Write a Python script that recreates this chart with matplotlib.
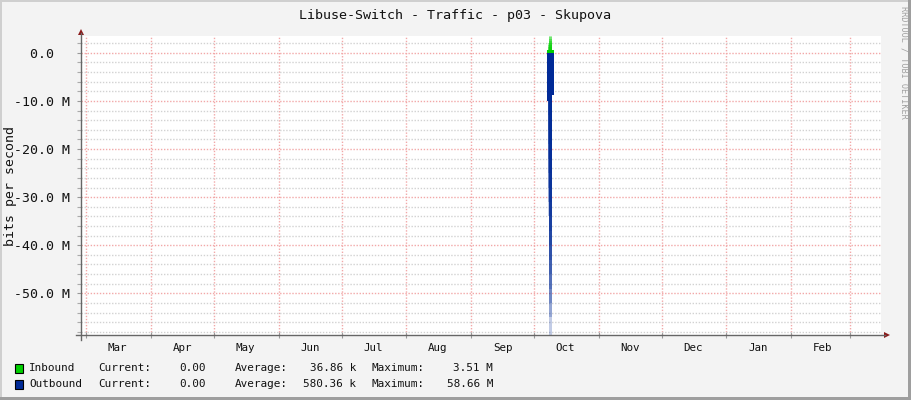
import matplotlib
matplotlib.use("Agg")
import matplotlib.pyplot as plt
import matplotlib.dates as mdates
from matplotlib.ticker import MultipleLocator, FuncFormatter
from matplotlib.patches import Rectangle, Polygon
from matplotlib.lines import Line2D
import numpy as np
import pandas as pd

# ---------------- data ----------------
title = "Libuse-Switch - Traffic - p03 - Skupova"
y_label = "bits per second"
x_start = "2022-02-26 11:00"
x_end = "2023-03-15 22:00"

# daily-average step segments (edges / values) around the October burst
burst_edges = ["2022-10-07 08:00", "2022-10-08 06:00", "2022-10-10 09:00"]
inbound_steps = [0.6e6, 0.6e6]
outbound_steps = [-10.1e6, -8.7e6]

# short peaks inside the burst (fading spikes)
in_peak_time = "2022-10-08 19:00"
inbound_peaks = [3.51e6, 3.2e6, 2.8e6, 2.4e6, 2.0e6, 1.6e6, 1.2e6]
out_peak_time = "2022-10-08 19:00"
outbound_peaks = [-58.66e6, -55e6, -52e6, -49e6, -46e6, -43e6, -40e6, -37e6,
                  -34e6, -31e6, -28e6, -25e6, -22e6, -19e6, -16e6, -13e6]

legend_names = ["Inbound", "Outbound"]
legend_current = ["0.00", "0.00"]
legend_average = ["36.86 k", "580.36 k"]
legend_maximum = ["3.51 M", "58.66 M"]
legend_colors = ["#00CF00", "#002A97"]

y_min, y_max = -58.66e6, 3.51e6

# ---------------- figure ----------------
W, H = 911, 400
fig = plt.figure(figsize=(W / 100, H / 100), dpi=100)
fig.patch.set_facecolor("#F3F3F3")
mono = "DejaVu Sans Mono"

def fx(px):
    return px / W

def fy(py):
    return 1 - py / H

# frame borders
fig.add_artist(Rectangle((0, 0), fx(2), 1, transform=fig.transFigure, color="#CFCFCF", lw=0))
fig.add_artist(Rectangle((0, fy(2)), 1, 2 / H, transform=fig.transFigure, color="#CFCFCF", lw=0))
fig.add_artist(Rectangle((fx(908), 0), fx(3), 1, transform=fig.transFigure, color="#9E9E9E", lw=0))
fig.add_artist(Rectangle((0, 0), 1, 3 / H, transform=fig.transFigure, color="#9E9E9E", lw=0))

ax = fig.add_axes([fx(81), fy(335), fx(881) - fx(81), (335 - 36) / H])
ax.set_facecolor("white")
for s in ax.spines.values():
    s.set_visible(False)

t0 = pd.Timestamp(x_start)
t1 = pd.Timestamp(x_end)
ax.set_xlim(mdates.date2num(t0), mdates.date2num(t1))
ax.set_ylim(y_min, y_max)

# grids
ax.xaxis.set_major_locator(mdates.MonthLocator())
ax.xaxis.set_major_formatter(plt.NullFormatter())
ax.xaxis.set_minor_locator(mdates.MonthLocator(bymonthday=16))
ax.xaxis.set_minor_formatter(mdates.DateFormatter("%b"))
ax.yaxis.set_major_locator(MultipleLocator(10e6))
ax.yaxis.set_minor_locator(MultipleLocator(2e6))
ax.yaxis.set_major_formatter(FuncFormatter(lambda v, p: "0.0  " if abs(v) < 1 else f"{v/1e6:.1f} M"))

red = "#F2A8A8"
ax.xaxis.grid(True, which="major", color=red, ls=(0, (1, 1.2)), lw=1)
ax.yaxis.grid(True, which="major", color=red, ls=(0, (1, 1.2)), lw=1)
ax.yaxis.grid(True, which="minor", color="#D2D2D2", ls=(0, (1, 1.2)), lw=1)
ax.set_axisbelow(True)

ax.tick_params(axis="x", which="major", length=4, direction="inout", color="#999999", width=0.8)
ax.tick_params(axis="x", which="minor", length=0, pad=6, labelsize=7.8, labelcolor="#111111")
ax.tick_params(axis="y", which="major", length=3, direction="out", color="#999999", width=0.8,
               pad=5, labelsize=9.5, labelcolor="#111111")
ax.tick_params(axis="y", which="minor", length=3, direction="out", color="#AAAAAA", width=0.8)
for lab in ax.get_xticklabels(minor=True) + ax.get_yticklabels():
    lab.set_fontfamily(mono)

# ---------------- data marks ----------------
edges = mdates.date2num(pd.to_datetime(burst_edges))
ax.fill_between(edges, list(inbound_steps) + [inbound_steps[-1]], 0, step="post",
                color=legend_colors[0], lw=0, zorder=3)
ax.fill_between(edges, list(outbound_steps) + [outbound_steps[-1]], 0, step="post",
                color=legend_colors[1], lw=0, zorder=3)

tin = mdates.date2num(pd.Timestamp(in_peak_time))
for i, v in enumerate(inbound_peaks):
    ax.bar(tin, v, width=1.3 + 0.1 * i, color=legend_colors[0], alpha=0.32, lw=0, zorder=3)
tout = mdates.date2num(pd.Timestamp(out_peak_time))
for i, v in enumerate(outbound_peaks):
    ax.bar(tout, v, width=1.2 + 0.06 * i, color=legend_colors[1], alpha=0.24, lw=0, zorder=3)

# ---------------- axes lines & arrows ----------------
axis_col = "#666666"
fig.add_artist(Line2D([fx(81), fx(81)], [fy(340), fy(33)], transform=fig.transFigure, color=axis_col, lw=1))
fig.add_artist(Line2D([fx(76), fx(885)], [fy(335), fy(335)], transform=fig.transFigure, color=axis_col, lw=1))
arrow_col = "#8B1A1A"
fig.add_artist(Polygon([(fx(78), fy(35)), (fx(84), fy(35)), (fx(81), fy(29))], closed=True,
                       transform=fig.transFigure, color=arrow_col, lw=0))
fig.add_artist(Polygon([(fx(884), fy(332)), (fx(884), fy(338)), (fx(890), fy(335))], closed=True,
                       transform=fig.transFigure, color=arrow_col, lw=0))

# ---------------- texts ----------------
fig.text(fx(455), fy(15), title, ha="center", va="center", fontsize=9.6, family=mono, color="#111111")
fig.text(fx(11), fy(186), y_label, ha="center", va="center", rotation=90, fontsize=9.5,
         family=mono, color="#111111")
fig.text(fx(904), fy(6), "RRDTOOL / TOBI OETIKER", ha="center", va="top", rotation=270,
         fontsize=6.1, family=mono, color="#A0A0A0")

rows_y = [368, 384]
for i in range(2):
    y = fy(rows_y[i])
    fig.add_artist(Rectangle((fx(15), fy(rows_y[i] + 4.5)), fx(8), 9 / H, transform=fig.transFigure,
                             facecolor=legend_colors[i], edgecolor="black", lw=0.8))
    kw = dict(va="center", fontsize=7.9, family=mono, color="#111111")
    fig.text(fx(29), y, legend_names[i], ha="left", **kw)
    fig.text(fx(98), y, "Current:", ha="left", **kw)
    fig.text(fx(206), y, legend_current[i], ha="right", **kw)
    fig.text(fx(235), y, "Average:", ha="left", **kw)
    fig.text(fx(356), y, legend_average[i], ha="right", **kw)
    fig.text(fx(372), y, "Maximum:", ha="left", **kw)
    fig.text(fx(493), y, legend_maximum[i], ha="right", **kw)

fig.savefig("out.png", dpi=100, facecolor=fig.get_facecolor())
